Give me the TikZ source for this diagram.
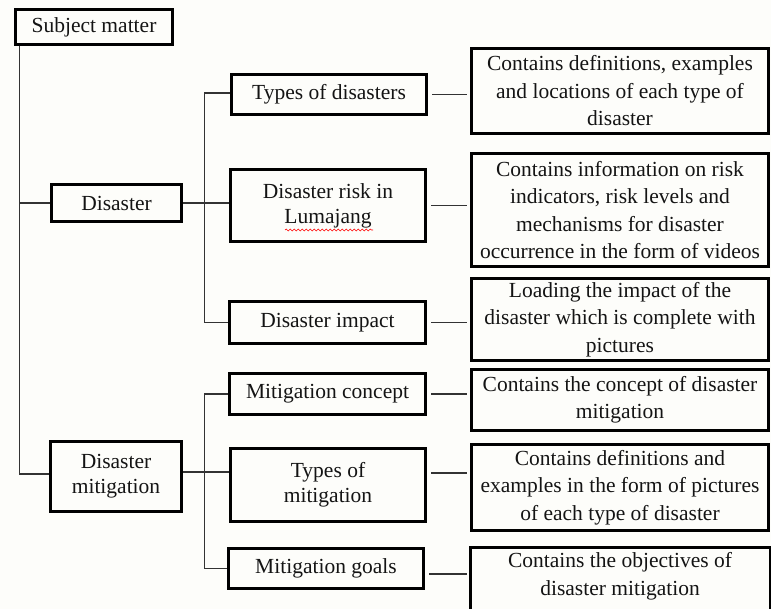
\documentclass[tikz,border=0pt]{standalone}
\usepackage{fontspec}
\setmainfont{Liberation Serif}
\usetikzlibrary{decorations.pathmorphing}
\definecolor{bgcol}{RGB}{253,253,250}
\begin{document}
\begin{tikzpicture}[x=1pt,y=-1pt,
  box/.style={draw=black, line width=3pt, align=center, inner sep=1pt, text=black!92,
              font=\fontsize{21.5}{25}\selectfont},
  rbox/.style={box, minimum width=297pt, font=\fontsize{21.5}{27.5}\selectfont},
  conn/.style={draw=black!80, line width=1.2pt},
  rconn/.style={conn, shorten <=4pt, shorten >=3pt}
]
\clip (0,0) rectangle (771,609);
\fill[bgcol] (0,0) rectangle (771,609);

% left column
\node[box, minimum width=157pt, minimum height=35pt] (sm) at (94,27) {Subject matter};
\node[box, minimum width=130pt, minimum height=37pt] (dis) at (116.5,203) {Disaster};
\node[box, minimum width=131pt, minimum height=70pt] (dm) at (116,476.5) {Disaster\\mitigation};

% middle column
\node[box, minimum width=195pt, minimum height=40pt] (tod) at (329,94.5) {Types of disasters};
\node[box, minimum width=195pt, minimum height=72pt] (risk) at (328,205.5) {Disaster risk in\\Lumajang};
\node[box, minimum width=196pt, minimum height=42pt] (imp) at (327.5,322.5) {Disaster impact};
\node[box, minimum width=196pt, minimum height=41pt] (mc) at (327.5,394) {Mitigation concept};
\node[box, minimum width=195pt, minimum height=73pt] (tom) at (328,485) {Types of\\mitigation};
\node[box, minimum width=195pt, minimum height=40pt] (mg) at (326,568.5) {Mitigation goals};

% right column
\node[rbox, minimum height=85pt] (r1) at (620,91) {Contains definitions, examples\\and locations of each type of\\disaster};
\node[rbox, minimum height=113pt] (r2) at (620,210) {Contains information on risk\\indicators, risk levels and\\mechanisms for disaster\\occurrence in the form of videos};
\node[rbox, minimum height=82pt] (r3) at (620,319.5) {Loading the impact of the\\disaster which is complete with\\pictures};
\node[rbox, minimum height=61pt] (r4) at (620,400) {Contains the concept of disaster\\mitigation};
\node[rbox, minimum height=86pt] (r5) at (620,487.5) {Contains definitions and\\examples in the form of pictures\\of each type of disaster};
\node[rbox, draw=none, minimum height=55pt] (r6) at (620,576) {Contains the objectives of\\disaster mitigation};
\draw[line width=3pt] (r6.north west) rectangle ([yshift=-60pt]r6.south east);

% spell-check underline
\draw[red, line width=0.6pt, decorate, decoration={snake, amplitude=0.9pt, segment length=4pt}]
  (285,230) -- (373,230);

% trunk
\draw[conn] ([xshift=5.5pt]sm.south west) |- (dis.west);
\draw[conn] ([xshift=5.5pt]sm.south west) |- ([yshift=2.5pt]dm.west);

% disaster branch
\draw[conn] (dis.east) -- (dis.east -| risk.west);
\draw[conn] ([xshift=21.5pt]dis.east) |- ([yshift=1.5pt]tod.west);
\draw[conn] ([xshift=21.5pt]dis.east) |- (imp.west);

% mitigation branch
\draw[conn] ([yshift=4.5pt]dm.east) -- ([yshift=13pt]tom.west);
\draw[conn] ([xshift=21.5pt,yshift=4.5pt]dm.east) |- (mc.west);
\draw[conn] ([xshift=21.5pt,yshift=4.5pt]dm.east) |- (mg.west);

% to descriptions
\draw[rconn] (tod.east) -- (tod.east -| r1.west);
\draw[rconn] (risk.east) -- (risk.east -| r2.west);
\draw[rconn] (imp.east) -- (imp.east -| r3.west);
\draw[rconn] (mc.east) -- (mc.east -| r4.west);
\draw[rconn] ([yshift=12pt]tom.east) -- ([yshift=14.5pt]r5.west);
\draw[rconn] ([yshift=-5.5pt]mg.east) -- ([yshift=2pt]r6.west);
\end{tikzpicture}
\end{document}
